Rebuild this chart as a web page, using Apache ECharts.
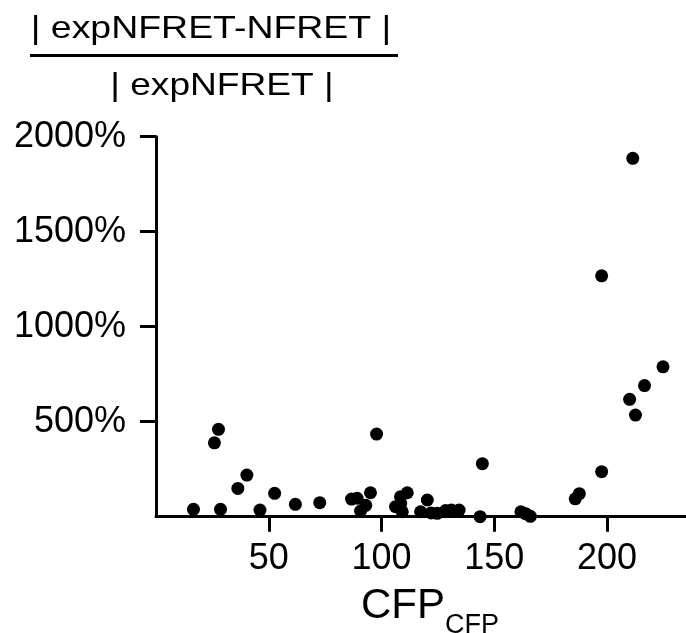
<!DOCTYPE html>
<html>
<head>
<meta charset="utf-8">
<script src="https://cdn.jsdelivr.net/npm/echarts@6/dist/echarts.min.js"></script>
<style>
html,body{margin:0;padding:0;background:#fff;}
#chart{width:686px;height:633px;}
</style>
</head>
<body>
<div id="chart"></div>
<script>
// CFP_CFP values (x) and relative error in percent (y)
var xValues = [16.6, 25.9, 27.7, 28.6, 36.3, 40.3, 46.1, 52.6, 61.8, 72.6,
  86.7, 89.2, 95.1, 93.0, 90.7, 97.8, 106.2, 108.4, 111.4, 109.2,
  108.5, 117.3, 120.3, 122.0, 124.7, 128.4, 131.0, 134.4, 144.7, 143.7,
  161.8, 164.0, 166.0, 185.9, 187.7, 197.6, 197.6, 210.0, 211.4, 212.6,
  216.6, 224.8];
var yValues = [39, 389, 460, 39, 149, 219, 35, 123, 65, 74,
  93, 97, 126, 60, 30, 435, 53, 105, 126, 26,
  70, 26, 88, 20, 18, 32, 35, 35, 279, 0,
  26, 15, 2, 94, 121, 237, 1268, 618, 1886, 535,
  690, 789];
var xTicks = [50, 100, 150, 200];
var yTicks = [500, 1000, 1500, 2000];
var titleTop = '| expNFRET-NFRET |';
var titleBottom = '| expNFRET |';

var points = xValues.map(function (x, i) { return [x, yValues[i]]; });
var FONT = '"Liberation Sans", Arial, sans-serif';

var chart = echarts.init(document.getElementById('chart'), null, {renderer: 'canvas'});
chart.setOption({
  animation: false,
  backgroundColor: '#ffffff',
  grid: {left: 156, right: 0, top: 136.7, bottom: 116.3, containLabel: false, outerBoundsMode: 'none'},
  xAxis: {
    type: 'value', min: 0, max: 235,
    splitLine: {show: false},
    axisLine: {show: true, onZero: false, lineStyle: {color: '#000', width: 3}},
    axisTick: {show: true, customValues: xTicks, length: 15, lineStyle: {color: '#000', width: 3}},
    axisLabel: {show: true, customValues: xTicks, margin: 24, color: '#000', fontSize: 36, fontFamily: FONT},
    name: '{a|CFP}{b|CFP}',
    nameLocation: 'middle',
    nameGap: 69,
    nameTextStyle: {
      padding: [0, 0, 0, 18],
      rich: {
        a: {fontSize: 42, lineHeight: 44, verticalAlign: 'top', color: '#000', fontFamily: FONT},
        b: {fontSize: 27, lineHeight: 53, verticalAlign: 'bottom', color: '#000', fontFamily: FONT}
      }
    }
  },
  yAxis: {
    type: 'value', min: 0, max: 2000,
    splitLine: {show: false},
    axisLine: {show: true, onZero: false, lineStyle: {color: '#000', width: 3}},
    axisTick: {show: true, customValues: yTicks, length: 16, lineStyle: {color: '#000', width: 3}},
    axisLabel: {show: true, customValues: yTicks, margin: 30, color: '#000', fontSize: 36, fontFamily: FONT,
      formatter: function (v) { return v + '%'; }}
  },
  graphic: [
    {type: 'text', x: 211, y: 29, scaleX: 1.17,
      style: {text: titleTop, x: 0, y: 0, align: 'center', verticalAlign: 'middle', fontSize: 32, fontFamily: FONT, fill: '#000'}},
    {type: 'line', shape: {x1: 30, y1: 55.5, x2: 398, y2: 55.5}, style: {stroke: '#000', lineWidth: 3}},
    {type: 'text', x: 222, y: 86, scaleX: 1.16,
      style: {text: titleBottom, x: 0, y: 0, align: 'center', verticalAlign: 'middle', fontSize: 32, fontFamily: FONT, fill: '#000'}}
  ],
  series: [{
    type: 'scatter',
    data: points,
    symbol: 'circle',
    symbolSize: 13,
    clip: false,
    itemStyle: {color: '#000', opacity: 1}
  }]
});
</script>
</body>
</html>
